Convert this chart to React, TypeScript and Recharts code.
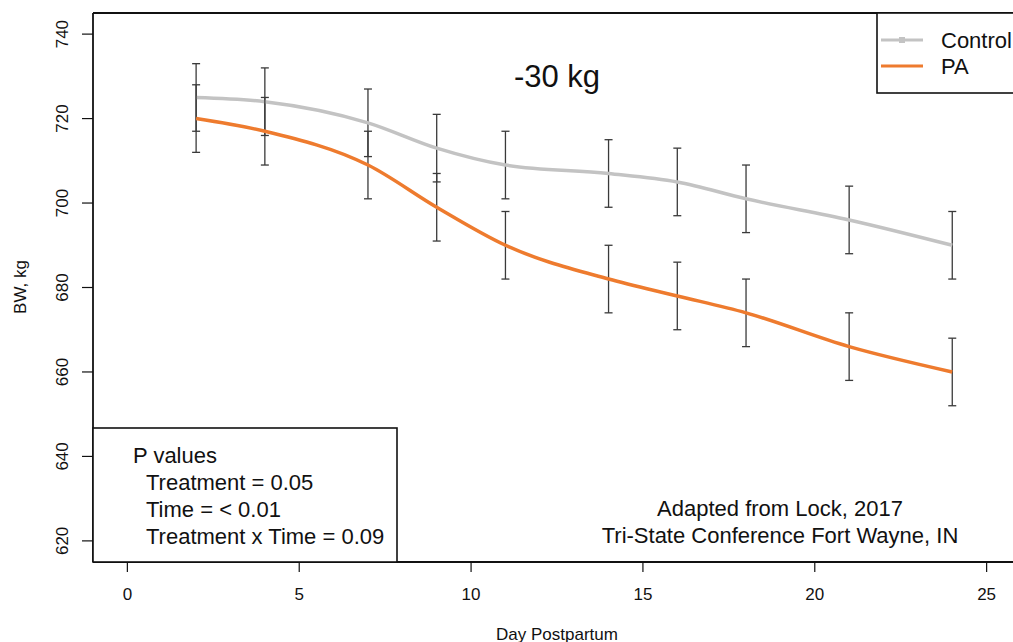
import React from 'react';
import {
  LineChart,
  Line,
  XAxis,
  YAxis,
  ErrorBar,
  ReferenceLine,
} from 'recharts';

const days = [2, 4, 7, 9, 11, 14, 16, 18, 21, 24];
const controlBW = [725, 724, 719, 713, 709, 707, 705, 701, 696, 690];
const paBW = [720, 717, 709, 699, 690, 682, 678, 674, 666, 660];
const controlSE = [8, 8, 8, 8, 8, 8, 8, 8, 8, 8];
const paSE = [8, 8, 8, 8, 8, 8, 8, 8, 8, 8];

const xTicks = [0, 5, 10, 15, 20, 25];
const yTicks = [620, 640, 660, 680, 700, 720, 740];

const seriesNames = ['Control', 'PA'];
const pLines = ['Treatment = 0.05', 'Time = < 0.01', 'Treatment x Time = 0.09'];

const data = days.map((d, i) => ({
  day: d,
  control: controlBW[i],
  pa: paBW[i],
  controlErr: controlSE[i],
  paErr: paSE[i],
}));

const FONT = '"Liberation Sans", Arial, Helvetica, sans-serif';
const GRAY = '#c3c3c3';
const ORANGE = '#ee7b2e';
const ERR = '#3a3a3a';

const YTick = (props: any) => {
  const { y, payload } = props;
  return (
    <text
      x={68}
      y={y}
      transform={`rotate(-90, 68, ${y})`}
      textAnchor="middle"
      fontSize={17}
      fontFamily={FONT}
      fill="#111"
    >
      {payload.value}
    </text>
  );
};

const XTick = (props: any) => {
  const { x, payload } = props;
  return (
    <text x={x} y={600} textAnchor="middle" fontSize={17} fontFamily={FONT} fill="#111">
      {payload.value}
    </text>
  );
};

export default function App() {
  return (
    <div style={{ position: 'absolute', left: 0, top: 0, width: 1013, height: 642, overflow: 'hidden', background: '#fff' }}>
      <LineChart
        width={1030}
        height={642}
        data={data}
        margin={{ top: 13, right: 9, bottom: 30, left: 0 }}
      >
        <XAxis
          dataKey="day"
          type="number"
          domain={[-1, 26]}
          ticks={xTicks}
          allowDataOverflow
          height={50}
          axisLine={{ stroke: '#111', strokeWidth: 1.8 }}
          tickLine={{ stroke: '#111', strokeWidth: 1.2 }}
          tickSize={10}
          tick={<XTick />}
        />
        <YAxis
          type="number"
          domain={[615, 745]}
          ticks={yTicks}
          allowDataOverflow
          width={93}
          axisLine={{ stroke: '#111', strokeWidth: 1.8 }}
          tickLine={{ stroke: '#111', strokeWidth: 1.2 }}
          tickSize={11}
          tick={<YTick />}
        />
        <ReferenceLine y={745} stroke="#111" strokeWidth={1.8} />
        <Line
          type="monotone"
          dataKey="control"
          name={seriesNames[0]}
          stroke={GRAY}
          strokeWidth={3.5}
          dot={false}
          isAnimationActive={false}
        >
          <ErrorBar dataKey="controlErr" direction="y" width={4} stroke={ERR} strokeWidth={1.3} isAnimationActive={false} />
        </Line>
        <Line
          type="monotone"
          dataKey="pa"
          name={seriesNames[1]}
          stroke={ORANGE}
          strokeWidth={3.5}
          dot={false}
          isAnimationActive={false}
        >
          <ErrorBar dataKey="paErr" direction="y" width={4} stroke={ERR} strokeWidth={1.3} isAnimationActive={false} />
        </Line>
      </LineChart>

      <svg
        width={1013}
        height={642}
        style={{ position: 'absolute', left: 0, top: 0, pointerEvents: 'none' }}
        fontFamily={FONT}
        fill="#111"
      >
        {/* legend */}
        <rect x={877} y={13} width={160} height={80} fill="#fff" stroke="#111" strokeWidth={1.6} />
        <line x1={881} y1={40} x2={923} y2={40} stroke={GRAY} strokeWidth={3} />
        <rect x={899} y={37} width={6} height={6} fill={GRAY} />
        <line x1={881} y1={66} x2={923} y2={66} stroke={ORANGE} strokeWidth={3} />
        <text x={941} y={48} fontSize={22}>{seriesNames[0]}</text>
        <text x={941} y={74} fontSize={22}>{seriesNames[1]}</text>

        <text x={557} y={87} fontSize={31} textAnchor="middle">-30 kg</text>

        <rect x={93} y={428} width={304} height={134} fill="#fff" stroke="#111" strokeWidth={1.6} />
        <text x={133} y={463} fontSize={22}>P values</text>
        {pLines.map((t, i) => (
          <text key={t} x={146} y={490 + i * 27} fontSize={22}>{t}</text>
        ))}

        <text x={780} y={516} fontSize={22} textAnchor="middle">Adapted from Lock, 2017</text>
        <text x={780} y={543} fontSize={22} textAnchor="middle">Tri-State Conference Fort Wayne, IN</text>

        <text x={557} y={640} fontSize={17} textAnchor="middle">Day Postpartum</text>
        <text x={26} y={287} fontSize={17} textAnchor="middle" transform="rotate(-90, 26, 287)">BW, kg</text>
      </svg>
    </div>
  );
}
